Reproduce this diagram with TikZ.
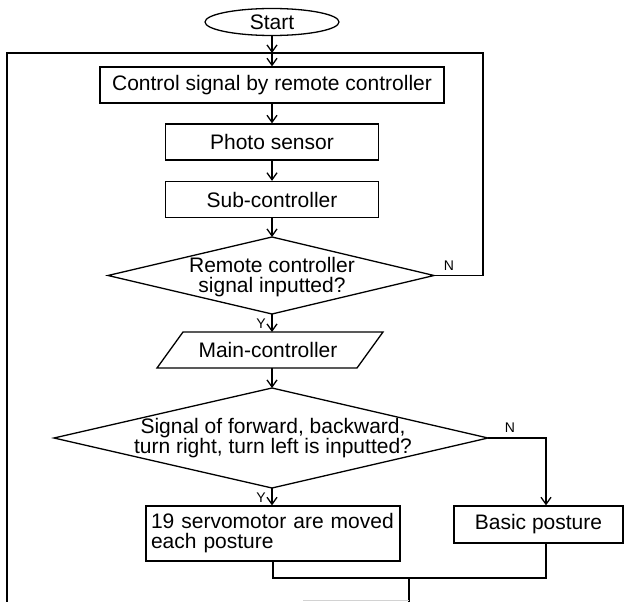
\documentclass[tikz,border=0pt]{standalone}
\usepackage{fontspec}
\setmainfont{Liberation Sans}
\usetikzlibrary{arrows.meta,shapes.geometric}
\begin{document}
\begin{tikzpicture}[x=1pt,y=-1pt,
  every node/.style={font=\fontsize{21}{20}\selectfont},
  ln/.style={line width=1.3pt},
  arr/.style={ln,-{Straight Barb[length=7pt,width=10pt,line width=1.3pt]}},
  pbox/.style={draw,ln,rectangle,inner sep=0pt,align=center},
  txt/.style={inner sep=0pt,align=center},
  lbl/.style={font=\fontsize{14}{14}\selectfont,inner sep=0pt},
]
\useasboundingbox (0,0) rectangle (624,602);
% start
\node[draw,ln,ellipse,minimum width=134pt,minimum height=27pt,inner sep=0pt] (start) at (272,22) {Start};
\coordinate (jn) at (272,53);
\coordinate (lt) at (7,53);
\coordinate (rt) at (483,53);
\coordinate (lb) at (7,602);
% boxes
\node[pbox,minimum width=344pt,minimum height=36pt] (b1) at (272,85) {Control signal by remote controller};
\node[pbox,minimum width=213pt,minimum height=36pt] (b2) at (272,142) {Photo sensor};
\node[pbox,minimum width=213pt,minimum height=36pt] (b3) at (272,199.5) {Sub-controller};
% diamond 1
\coordinate (d1n) at (272,237);
\coordinate (d1s) at (272,314);
\coordinate (d1w) at (108,275.5);
\coordinate (d1e) at (434,275.5);
\draw[ln] (d1n) -- (d1e) -- (d1s) -- (d1w) -- cycle;
\node[txt] (d1) at (272,277) {Remote controller\\signal inputted?};
\node[lbl] (n1) at (449,266) {N};
\node[lbl] (y1) at (261,324) {Y};
% parallelogram
\coordinate (pnw) at (183,332);
\coordinate (pne) at (383,332);
\coordinate (pse) at (357,368);
\coordinate (psw) at (157,368);
\coordinate (pn) at (272,332);
\coordinate (ps) at (272,368);
\draw[ln] (pnw) -- (pne) -- (pse) -- (psw) -- cycle;
\node[txt] (mc) at (268,350) {Main-controller};
% diamond 2
\coordinate (d2n) at (272,388);
\coordinate (d2s) at (272,488);
\coordinate (d2w) at (54,438);
\coordinate (d2e) at (488,438);
\draw[ln] (d2n) -- (d2e) -- (d2s) -- (d2w) -- cycle;
\node[txt] (d2) at (273,438) {Signal of forward, backward,\\turn right, turn left is inputted?};
\node[lbl] (n2) at (510,428) {N};
\node[lbl] (y2) at (261,498) {Y};
\coordinate (rc) at (546,438);
% lower boxes
\node[draw,ln,rectangle,inner xsep=5pt,inner ysep=0pt,minimum height=55pt,text width=244pt,align=left] (servo) at (273,533.5) {19 servomotor are moved\\each posture};
\node[pbox,minimum width=169pt,minimum height=37pt] (basic) at (538.5,524.5) {Basic posture};
\coordinate (mrg) at (409,578);
\coordinate (mrgd) at (409,602);
% connectors
\draw[arr] (start) -- (jn);
\draw[arr] (jn) -- (b1);
\draw[arr] (b1) -- (b2);
\draw[arr] (b2) -- (b3);
\draw[arr] (b3) -- (d1n);
\draw[ln] (d1e) -| (rt) -- (lt) -- (lb);
\draw[arr] (d1s) -- (pn);
\draw[arr] (ps) -- (d2n);
\draw[arr] (d2s) -- (d2s |- servo.north);
\draw[arr] (d2e) -- (rc) -- (rc |- basic.north);
\draw[ln] (servo.south) |- (mrg) -| (rc |- basic.south);
\draw[ln] (mrg) -- (mrgd);
\draw[gray!35,line width=1pt] (303,600) -- (409,600);
\end{tikzpicture}
\end{document}
